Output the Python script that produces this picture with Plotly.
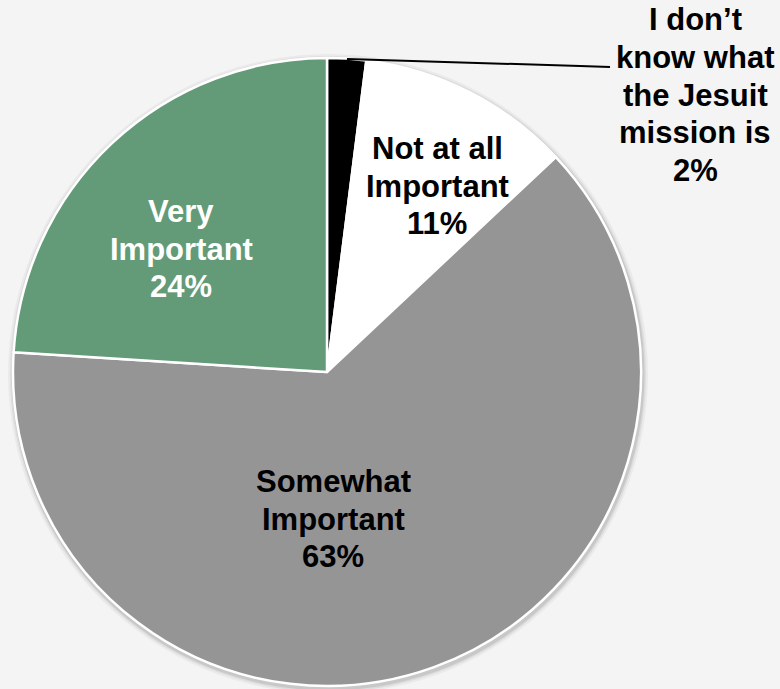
import plotly.graph_objects as go

# Survey responses: importance of the Jesuit mission
labels = ["I don\u2019t know what the Jesuit mission is", "Not at all Important",
          "Somewhat Important", "Very Important"]
label_lines = [["I don\u2019t", "know what", "the Jesuit", "mission is"],
               ["Not at all", "Important"],
               ["Somewhat", "Important"],
               ["Very", "Important"]]
values = [2, 11, 63, 24]
colors = ["#000000", "#ffffff", "#959595", "#639a77"]
text_colors = ["#000000", "#000000", "#000000", "#ffffff"]

W, H = 780, 689
CX, CY, R = 327, 372, 314  # pie centre and radius in pixels
LINE_GAP = 37.5            # vertical distance between label lines, px
FONT_SIZE = 31


def px(x):
    return x / W


def py(y):
    return 1 - y / H


fig = go.Figure()

fig.add_trace(go.Pie(
    labels=labels,
    values=values,
    sort=False,
    direction="clockwise",
    rotation=0,
    marker=dict(colors=colors, line=dict(color="#ffffff", width=2.5)),
    textinfo="none",
    hoverinfo="label+percent",
    showlegend=False,
    domain=dict(x=[px(CX - R), px(CX + R)], y=[py(CY + R), py(CY - R)]),
))

# soft drop shadow under the pie
shapes = []
for grow, alpha in [(6, 0.04), (4, 0.06), (2.5, 0.09)]:
    shapes.append(dict(
        type="circle", xref="paper", yref="paper", layer="below",
        x0=px(CX - R - grow + 1), x1=px(CX + R + grow + 1),
        y0=py(CY + R + grow + 2), y1=py(CY - R - grow + 2),
        fillcolor=f"rgba(0,0,0,{alpha})", line=dict(width=0),
    ))

# leader line from the small slice to its label
leader = [(347, 59), (580, 66), (610, 67)]
for (x0, y0), (x1, y1) in zip(leader[:-1], leader[1:]):
    shapes.append(dict(
        type="line", xref="paper", yref="paper",
        x0=px(x0), y0=py(y0), x1=px(x1), y1=py(y1),
        line=dict(color="#000000", width=2),
    ))

# label block centres (pixels)
label_pos = [(695, 95), (437, 186), (333, 519), (181, 249)]

annotations = []
for lines, v, c, (x, y) in zip(label_lines, values, text_colors, label_pos):
    rows = lines + [f"{v}%"]
    top = y - LINE_GAP * (len(rows) - 1) / 2
    for i, row in enumerate(rows):
        annotations.append(dict(
            x=px(x), y=py(top + i * LINE_GAP), xref="paper", yref="paper",
            text=row, showarrow=False, align="center",
            xanchor="center", yanchor="middle",
            font=dict(family="Liberation Sans, Arial, sans-serif",
                      size=FONT_SIZE, color=c, weight="bold"),
        ))

fig.update_layout(
    width=W, height=H,
    margin=dict(l=0, r=0, t=0, b=0),
    paper_bgcolor="#f4f4f4",
    plot_bgcolor="#f4f4f4",
    shapes=shapes,
    annotations=annotations,
)

fig.write_html("out.html")
